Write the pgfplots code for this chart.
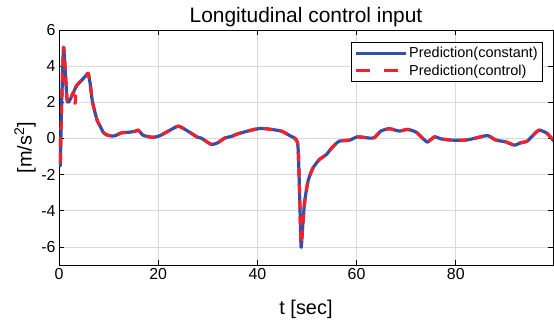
\documentclass[border=0pt]{standalone}
\usepackage{fontspec}
\setmainfont{Liberation Sans}
\usepackage{pgfplots}
\pgfplotsset{compat=1.18}
\usepackage{pgfplotstable}
\definecolor{cblue}{RGB}{50,80,170}
\definecolor{cred}{RGB}{240,35,45}

\pgfplotstableread{
t v
0 0
0.1 -0.5
0.25 -1.5
0.5 1.5
0.9 5.0
1.2 4.0
1.6 2.2
1.9 2.0
2.5 2.3
3.0 2.6
3.5 2.9
4.5 3.2
5.5 3.5
5.9 3.6
6.3 3.0
6.7 2.1
7.2 1.5
7.7 1.0
8.25 0.7
8.9 0.35
9.6 0.2
10.5 0.14
11.3 0.15
12.6 0.31
14.3 0.35
15.4 0.4
16 0.46
17 0.17
19 0.06
20.3 0.15
22 0.4
24 0.68
25.4 0.5
26.7 0.28
28 0.06
28.7 0.02
30.7 -0.33
32 -0.24
33.4 0.02
34.7 0.11
36.1 0.26
37.8 0.39
39.4 0.5
40.8 0.56
42.8 0.5
44.8 0.41
46.5 0.16
48.1 -0.24
48.5 -3
48.8 -6.0
49.1 -5.0
49.5 -3.57
50.2 -2.37
51.2 -1.63
52.5 -1.17
53.9 -0.89
55.2 -0.46
56.5 -0.15
58.6 -0.09
60.2 0.09
62.6 0.02
63.6 0.05
64.9 0.41
66.6 0.54
68.6 0.41
70.3 0.5
72 0.35
73.3 0.02
74.3 -0.2
75.7 0.09
77 -0.02
79 -0.09
82 -0.09
84 0.02
86.4 0.16
88.1 -0.09
90.1 -0.19
91.8 -0.37
93.1 -0.24
94.4 -0.15
95.4 0.13
96.8 0.46
98.4 0.28
99.8 -0.15
}\blueTable

\pgfplotstableread{
t v
0 0
0.1 -0.6
0.25 -1.5
0.5 1.6
0.9 5.0
1.2 4.1
1.6 2.2
1.9 2.0
2.5 2.3
2.9 2.55
3.1 2.0
3.3 2.0
3.45 2.85
4.5 3.2
5.5 3.5
5.9 3.6
6.3 3.0
6.7 2.1
7.2 1.5
7.7 1.0
8.25 0.7
8.9 0.35
9.6 0.2
10.5 0.14
11.3 0.15
12.6 0.31
14.3 0.35
15.4 0.4
16 0.46
17 0.17
19 0.06
20.3 0.15
22 0.4
24 0.68
25.4 0.5
26.7 0.28
28 0.06
28.7 0.02
30.7 -0.33
32 -0.24
33.4 0.02
34.7 0.11
36.1 0.26
37.8 0.39
39.4 0.5
40.8 0.56
42.8 0.5
44.8 0.41
46.5 0.16
48.1 -0.24
48.5 -3
48.8 -5.8
49.1 -5.0
49.5 -3.57
50.2 -2.37
51.2 -1.63
52.5 -1.17
53.9 -0.89
55.2 -0.46
56.5 -0.15
58.6 -0.09
60.2 0.09
62.6 0.02
63.6 0.05
64.9 0.41
66.6 0.54
68.6 0.41
70.3 0.5
72 0.35
73.3 0.02
74.3 -0.2
75.7 0.09
77 -0.02
79 -0.09
82 -0.09
84 0.02
86.4 0.16
88.1 -0.09
90.1 -0.19
91.8 -0.37
93.1 -0.24
94.4 -0.15
95.4 0.13
96.8 0.46
98.4 0.28
99.8 -0.15
}\redTable

\begin{document}
\begin{tikzpicture}
\useasboundingbox (-59bp,-56bp) rectangle (495bp,265bp);
\begin{axis}[
  at={(0,0)}, anchor=south west,
  scale only axis, width=494bp, height=235bp,
  xmin=0, xmax=99.6, ymin=-7, ymax=6,
  xtick={0,20,40,60,80}, ytick={-6,-4,-2,0,2,4,6},
  grid=major, grid style={gray!30, line width=0.8bp},
  tick align=inside, major tick length=5bp,
  tick style={black, line width=0.6bp},
  axis line style={black, line width=0.8bp},
  /pgf/number format/assume math mode=true,
  ticklabel style={font=\fontsize{16}{18}\selectfont},
  title={Longitudinal control input},
  title style={at={(axis description cs:0.5,1.031)}, anchor=center, font=\fontsize{21}{23}\selectfont},
  xlabel={t [sec]},
  xlabel style={at={(axis description cs:0.5,-0.19)}, anchor=center, font=\fontsize{20}{22}\selectfont},
  ylabel={[m/s\textsuperscript{2}]},
  ylabel style={at={(axis description cs:-0.0688,0.5)}, anchor=center, font=\fontsize{20}{22}\selectfont},
  legend style={at={(axis description cs:1,1)}, anchor=north east, xshift=-10bp, yshift=-12bp,
    draw=black, line width=0.6bp, font=\fontsize{14.5}{16.5}\selectfont, row sep=1.5bp, inner sep=3bp},
  legend cell align=left,
  legend image code/.code={\draw[#1] (0bp,0bp) -- (50bp,0bp);},
]
\addplot[cblue, line width=3.2bp, line join=round, smooth, tension=0.35] table[x=t,y=v] {\blueTable};
\addlegendentry{Prediction(constant)}
\addplot[cred, line width=3.2bp, dash pattern=on 9bp off 7bp, line join=round, smooth, tension=0.35,
  legend image code/.code={\draw[cred, line width=3.2bp, dash pattern=on 14bp off 14bp] (0bp,0bp) -- (50bp,0bp);}] table[x=t,y=v] {\redTable};
\addlegendentry{Prediction(control)}
\end{axis}
\end{tikzpicture}
\end{document}
